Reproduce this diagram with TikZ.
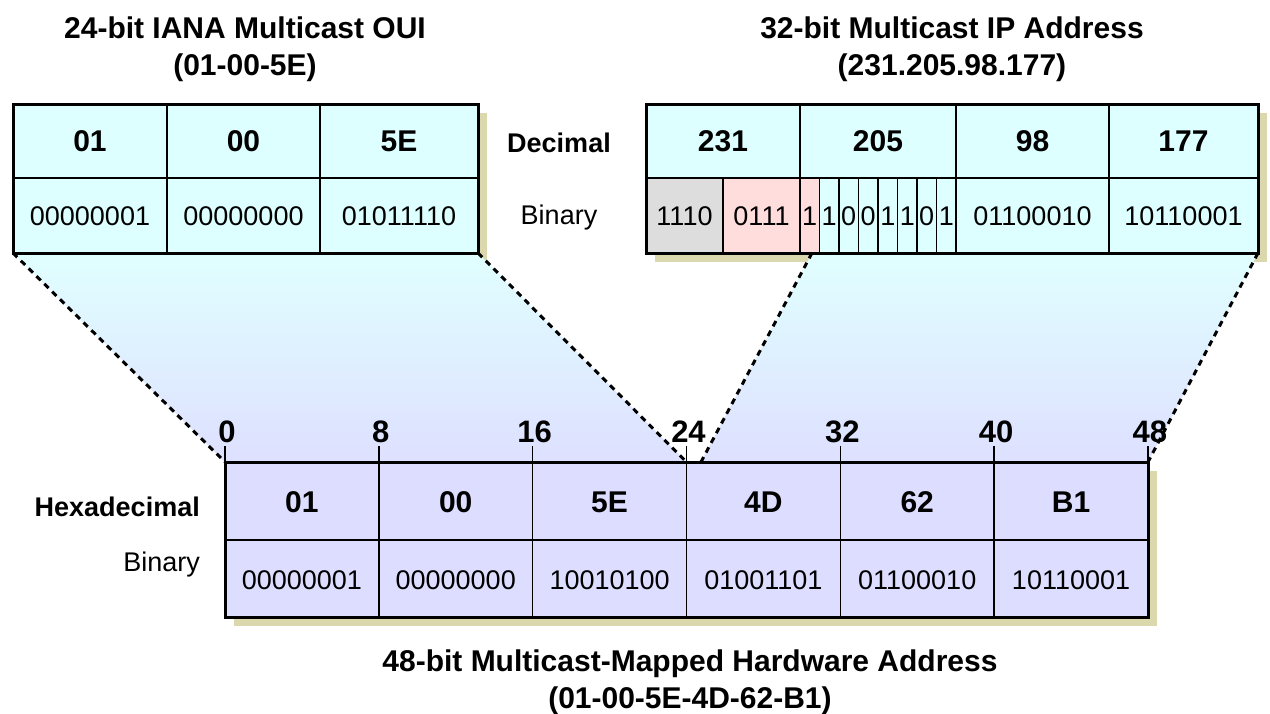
\documentclass[tikz,border=0pt]{standalone}
\usepackage{fontspec}
\setmainfont{Liberation Sans}
\definecolor{cyanbox}{RGB}{221,255,255}
\definecolor{lavbox}{RGB}{221,221,255}
\definecolor{shadowc}{RGB}{220,216,174}
\definecolor{graycell}{RGB}{221,221,221}
\definecolor{pinkcell}{RGB}{255,221,221}
\definecolor{gradtop}{RGB}{224,255,255}
\definecolor{gradbot}{RGB}{222,224,255}
\tikzset{
  frame/.style={line width=3pt},
  inner/.style={line width=1.5pt},
  hdr/.style={font=\fontsize{30}{34}\selectfont\bfseries, inner sep=0pt},
  bin/.style={font=\fontsize{27}{30}\selectfont, inner sep=0pt},
  side/.style={font=\fontsize{27}{30}\selectfont, inner sep=0pt},
  sideb/.style={font=\fontsize{27}{30}\selectfont\bfseries, inner sep=0pt},
  ttl/.style={font=\fontsize{30}{37}\selectfont\bfseries, align=center, inner sep=0pt},
  tick/.style={font=\fontsize{31}{34}\selectfont\bfseries, inner sep=0pt, anchor=base},
  mapline/.style={line width=3pt, dash pattern=on 6pt off 5pt},
}
\begin{document}
\begin{tikzpicture}[x=1pt,y=-1pt]
\useasboundingbox (0,0) rectangle (1270,713);
% titles
\node[ttl] (t1) at (245,49) {24-bit IANA Multicast OUI\\(01-00-5E)};
\node[ttl] (t2) at (952,49) {32-bit Multicast IP Address\\(231.205.98.177)};
\node[ttl] (t3) at (690,682) {48-bit Multicast-Mapped Hardware Address\\(01-00-5E-4D-62-B1)};
% corner coordinates
\coordinate (LBL) at (13,253); \coordinate (LBR) at (478,253);
\coordinate (RBL) at (812,253); \coordinate (RBR) at (1258,253);
\coordinate (B0) at (225,462); \coordinate (B24) at (686.5,462);
\coordinate (B25) at (701,462); \coordinate (B48) at (1148,462);
% shadows
\fill[shadowc] (22,113) rectangle (487,262);
\fill[shadowc] (655,113) rectangle (1267,262);
\fill[shadowc] (234,471) rectangle (1157,626);
% mapping trapezoids
\shade[top color=gradtop,bottom color=gradbot] (LBL) -- (LBR) -- (B24) -- (B0) -- cycle;
\shade[top color=gradtop,bottom color=gradbot] (RBL) -- (RBR) -- (B48) -- (B25) -- cycle;
\draw[mapline] (LBL) -- (B0);
\draw[mapline] (LBR) -- (B24);
\draw[mapline] (RBL) -- (B25);
\draw[mapline] (RBR) -- (B48);
% left box (OUI)
\fill[cyanbox] (13,104) rectangle (478,253);
\draw[inner] (13,178) -- (478,178) (167,104) -- (167,253) (320,104) -- (320,253);
\draw[frame] (13,104) rectangle (478,253);
\node[hdr] (o1) at (90,141) {01};
\node[hdr] (o2) at (243.5,141) {00};
\node[hdr] (o3) at (399,141) {5E};
\node[bin] (ob1) at (90,216) {00000001};
\node[bin] (ob2) at (243.5,216) {00000000};
\node[bin] (ob3) at (399,216) {01011110};
% right box (IP)
\fill[cyanbox] (646,104) rectangle (1258,253);
\fill[graycell] (646,178) rectangle (723,253);
\fill[pinkcell] (723,178) rectangle (819.5,253);
\draw[inner] (646,178) -- (1258,178) (800,104) -- (800,253) (956,104) -- (956,253) (1109,104) -- (1109,253) (723,178) -- (723,253);
\foreach \k in {1,...,7} \draw[inner] ({800+19.5*\k},178) -- ({800+19.5*\k},253);
\draw[frame] (646,104) rectangle (1258,253);
\node[hdr] (i1) at (723,141) {231};
\node[hdr] (i2) at (878,141) {205};
\node[hdr] (i3) at (1032.5,141) {98};
\node[hdr] (i4) at (1183.5,141) {177};
\node[bin] (ib1) at (684.5,216) {1110};
\node[bin] (ib2) at (761.5,216) {0111};
\foreach \b [count=\k from 0] in {1,1,0,0,1,1,0,1}
  \node[bin] (bit\k) at ({809.75+19.5*\k},216) {\b};
\node[bin] (ib3) at (1032.5,216) {01100010};
\node[bin] (ib4) at (1183.5,216) {10110001};
\node[sideb] (dec) at (559,143) {Decimal};
\node[side] (bn1) at (559,218) {Binary};
% bottom box (MAC)
\fill[lavbox] (225,462) rectangle (1148,617);
\draw[inner] (225,540) -- (1148,540);
\foreach \i in {1,...,5} \draw[inner] ({225+153.83*\i},462) -- ({225+153.83*\i},617);
\draw[frame] (225,462) rectangle (1148,617);
\foreach \n [count=\i from 0] in {0,8,16,24,32,40,48} {
  \draw[inner] ({225+153.83*\i},446) -- ({225+153.83*\i},462);
  \node[tick] (tk\i) at ({225+153.83*\i+2},442) {\n};
}
\foreach \h/\bb [count=\i from 0] in {01/00000001,00/00000000,5E/10010100,4D/01001101,62/01100010,B1/10110001} {
  \node[hdr] (mh\i) at ({301.9+153.83*\i},502) {\h};
  \node[bin] (mb\i) at ({301.9+153.83*\i},580) {\bb};
}
\node[sideb, anchor=east] (hex) at (200,507) {Hexadecimal};
\node[side, anchor=east] (bn2) at (200,565) {Binary};
\end{tikzpicture}
\end{document}
